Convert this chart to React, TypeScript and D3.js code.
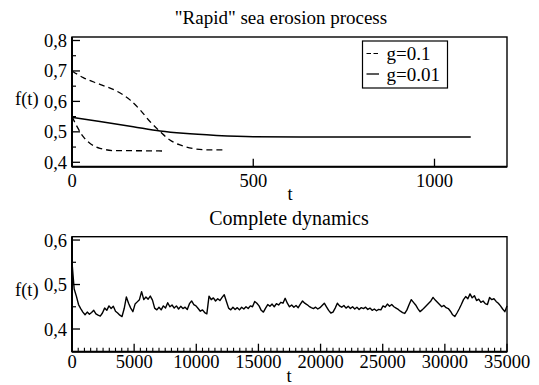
import React from "react";
import * as d3 from "d3";

// ---------- Data ----------
// Top panel: "Rapid" sea erosion process
const g01aT = [0, 31, 77, 123, 160, 188, 215, 243, 270, 298, 335, 371, 425];
const g01aF = [0.7, 0.678, 0.656, 0.634, 0.605, 0.572, 0.534, 0.501, 0.473, 0.457, 0.445, 0.441, 0.441];
const g01bT = [0, 14, 31, 50, 77, 123, 160, 250];
const g01bF = [0.55, 0.517, 0.484, 0.462, 0.446, 0.438, 0.438, 0.437];
const g001T = [0, 77, 169, 243, 307, 399, 500, 700, 900, 1100];
const g001F = [0.548, 0.534, 0.517, 0.503, 0.495, 0.488, 0.484, 0.483, 0.483, 0.483];

const topXTicks = [0, 500, 1000];
const topYTicks = [0.4, 0.5, 0.6, 0.7, 0.8];
const topYMinor = [0.45, 0.55, 0.65, 0.75];

// Bottom panel: Complete dynamics (t step 175)
const fullStep = 175;
const fullF = [
  0.55, 0.49, 0.474, 0.455, 0.446, 0.438, 0.432, 0.438, 0.433, 0.437,
  0.442, 0.434, 0.431, 0.429, 0.436, 0.447, 0.442, 0.452, 0.446, 0.451,
  0.44, 0.436, 0.431, 0.428, 0.446, 0.472, 0.458, 0.447, 0.439, 0.456,
  0.461, 0.466, 0.484, 0.466, 0.472, 0.467, 0.474, 0.465, 0.447, 0.443,
  0.449, 0.443, 0.452, 0.447, 0.459, 0.45, 0.454, 0.447, 0.452, 0.445,
  0.451, 0.446, 0.449, 0.444, 0.457, 0.463, 0.455, 0.452, 0.446, 0.44,
  0.443, 0.437, 0.434, 0.474, 0.466, 0.47, 0.463, 0.468, 0.464, 0.471,
  0.477, 0.462, 0.447, 0.443, 0.449, 0.444, 0.448, 0.443, 0.449, 0.445,
  0.45, 0.446, 0.452, 0.45, 0.462, 0.458, 0.452, 0.442, 0.438, 0.447,
  0.455, 0.451, 0.456, 0.45, 0.457, 0.454, 0.46, 0.458, 0.469, 0.458,
  0.45, 0.454, 0.449, 0.453, 0.448, 0.456, 0.463, 0.458, 0.455, 0.451,
  0.448, 0.446, 0.449, 0.445, 0.448, 0.453, 0.458, 0.45, 0.442, 0.436,
  0.438, 0.447, 0.458, 0.452, 0.449, 0.453, 0.447, 0.451, 0.446, 0.45,
  0.445, 0.449, 0.444, 0.448, 0.446, 0.449, 0.444, 0.447, 0.442, 0.445,
  0.441, 0.444, 0.443, 0.452, 0.449, 0.456, 0.451, 0.455, 0.45, 0.447,
  0.444, 0.44, 0.437, 0.435, 0.443, 0.455, 0.466, 0.46, 0.454, 0.446,
  0.439, 0.443, 0.448, 0.453, 0.458, 0.463, 0.471, 0.465, 0.46, 0.455,
  0.45, 0.453, 0.448, 0.446, 0.44, 0.432, 0.428, 0.436, 0.445, 0.455,
  0.466, 0.473, 0.468, 0.479, 0.47, 0.475, 0.464, 0.467, 0.46, 0.463,
  0.457, 0.455, 0.471, 0.466, 0.468, 0.462, 0.458, 0.452, 0.445, 0.439,
  0.452,
];
const botXTicks = [0, 5000, 10000, 15000, 20000, 25000, 30000, 35000];
const botYTicks = [0.4, 0.5, 0.6];
const botYMinor = [0.45, 0.55];

const FONT = "Liberation Serif";

const fmtY = (v: number) => v.toFixed(1).replace(".", ",");

function T({ fs, children, ...rest }: any) {
  return (
    <text {...rest} fill="#000" fontFamily={FONT} fontSize={fs} style={{ fontFamily: FONT, fontSize: fs + "px" }}>
      {children}
    </text>
  );
}

export default function App() {
  const L = 72, R = 507;
  const xTop = d3.scaleLinear().domain([0, 1200]).range([L, R]);
  const yTop = d3.scaleLinear().domain([0.3855, 0.8115]).range([166.7, 37]);
  const xBot = d3.scaleLinear().domain([0, 35000]).range([L, R]);
  const yBot = d3.scaleLinear().domain([0.349, 0.6075]).range([351.7, 236.7]);

  const lineTop = (Ts: number[], F: number[]) =>
    d3
      .line<number>()
      .x((_, i) => xTop(Ts[i]))
      .y((f) => yTop(f))
      .curve(d3.curveMonotoneX)(F) as string;

  const botLine = d3
    .line<number>()
    .x((_, i) => xBot(i * fullStep))
    .y((f) => yBot(f))(fullF) as string;

  const botMinorX: number[] = d3.range(0, 35001, 500).filter((v) => v % 5000 !== 0);

  return (
    <svg
      width={539}
      height={385}
      style={{ position: "absolute", left: 0, top: 0, background: "#fff", fontFamily: FONT }}
    >
      <rect x={0} y={0} width={539} height={385} fill="#fff" />
      {/* ---------- Top panel ---------- */}
      <T x={281} y={24} textAnchor="middle" fs={19}>
        "Rapid" sea erosion process
      </T>
      <rect x={L} y={37} width={R - L} height={166.7 - 37} fill="none" stroke="#000" strokeWidth={1.4} />
      <line x1={L} x2={R} y1={166.7} y2={166.7} stroke="#000" strokeWidth={2} />
      <line x1={L} x2={L} y1={37} y2={166.7} stroke="#000" strokeWidth={2} />
      {topYTicks.map((v) => (
        <g key={"ty" + v}>
          <line x1={L} x2={L + 8} y1={yTop(v)} y2={yTop(v)} stroke="#000" strokeWidth={1.3} />
          <T x={67} y={yTop(v) + 6.5} textAnchor="end" fs={18.5}>
            {fmtY(v)}
          </T>
        </g>
      ))}
      {topYMinor.map((v) => (
        <line key={"tym" + v} x1={L} x2={L + 4} y1={yTop(v)} y2={yTop(v)} stroke="#000" strokeWidth={1.2} />
      ))}
      {topXTicks.map((v) => (
        <g key={"tx" + v}>
          <line x1={xTop(v)} x2={xTop(v)} y1={166.7} y2={166.7 - 8} stroke="#000" strokeWidth={1.3} />
          <T x={xTop(v)} y={186.7} textAnchor="middle" fs={18.5}>
            {v}
          </T>
        </g>
      ))}
      <T x={290} y={200} textAnchor="middle" fs={18.5}>t</T>
      <T x={15} y={104.5} fs={18.5}>f(t)</T>

      <path d={lineTop(g01aT, g01aF)} fill="none" stroke="#000" strokeWidth={1.3} strokeDasharray="6,4" />
      <path d={lineTop(g01bT, g01bF)} fill="none" stroke="#000" strokeWidth={1.3} strokeDasharray="6,4" />
      <path d={lineTop(g001T, g001F)} fill="none" stroke="#000" strokeWidth={1.5} />

      {/* legend */}
      <rect x={362.5} y={41} width={85} height={47} fill="#fff" stroke="#000" strokeWidth={1.2} />
      <line x1={366.5} x2={378} y1={53.5} y2={53.5} stroke="#000" strokeWidth={1.2} strokeDasharray="4.5,2.5" />
      <line x1={366.5} x2={379} y1={74} y2={74} stroke="#000" strokeWidth={1.3} />
      <T x={386.5} y={60} fs={19}>g=0.1</T>
      <T x={386.5} y={80.5} fs={19}>g=0.01</T>

      {/* ---------- Bottom panel ---------- */}
      <T x={289} y={224.5} textAnchor="middle" fs={20}>
        Complete dynamics
      </T>
      <rect x={L} y={236.7} width={R - L} height={351.7 - 236.7} fill="none" stroke="#000" strokeWidth={1.4} />
      <line x1={L} x2={R} y1={351.7} y2={351.7} stroke="#000" strokeWidth={2} />
      <line x1={L} x2={L} y1={236.7} y2={351.7} stroke="#000" strokeWidth={2} />
      {botYTicks.map((v) => (
        <g key={"by" + v}>
          <line x1={L} x2={L + 8} y1={yBot(v)} y2={yBot(v)} stroke="#000" strokeWidth={1.3} />
          <T x={67} y={yBot(v) + 6.5} textAnchor="end" fs={18.5}>
            {fmtY(v)}
          </T>
        </g>
      ))}
      {botYMinor.map((v) => (
        <line key={"bym" + v} x1={L} x2={L + 4} y1={yBot(v)} y2={yBot(v)} stroke="#000" strokeWidth={1.2} />
      ))}
      {botXTicks.map((v) => (
        <g key={"bx" + v}>
          <line x1={xBot(v)} x2={xBot(v)} y1={351.7} y2={351.7 - 8} stroke="#000" strokeWidth={1.3} />
          <T x={xBot(v)} y={368.3} textAnchor="middle" fs={18.5}>
            {v}
          </T>
        </g>
      ))}
      {botMinorX.map((v) => (
        <line key={"bxm" + v} x1={xBot(v)} x2={xBot(v)} y1={351.7} y2={351.7 - 4} stroke="#000" strokeWidth={1.1} />
      ))}
      <T x={289} y={382} textAnchor="middle" fs={18.5}>t</T>
      <T x={15} y={296} fs={18.5}>f(t)</T>

      <path d={botLine} fill="none" stroke="#000" strokeWidth={1.4} strokeLinejoin="round" />
    </svg>
  );
}
